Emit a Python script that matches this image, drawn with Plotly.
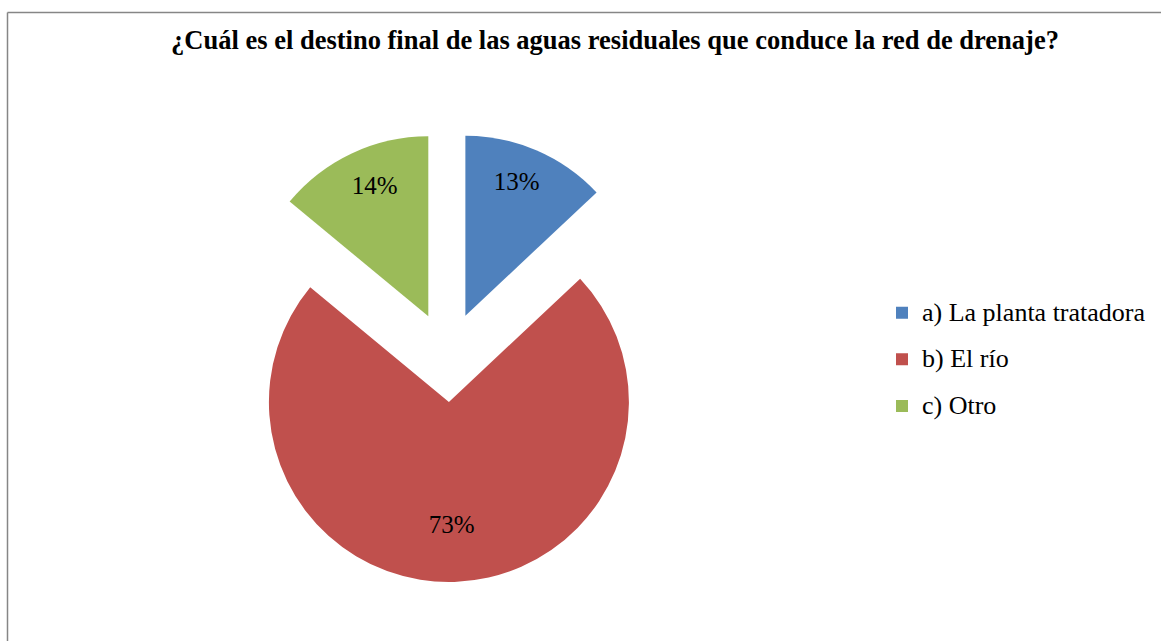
import plotly.graph_objects as go

labels = ["a) La planta tratadora", "b) El río", "c) Otro"]
values = [13, 73, 14]
colors = ["#4F81BD", "#C0504D", "#9BBB59"]
title_text = "¿Cuál es el destino final de las aguas residuales que conduce la red de drenaje?"

W, H = 1161, 641
# pie box (pixels)
cx, cy, half = 447.5, 357.0, 225.0

legend_labels = [
    '<span style="font-size:26px;baseline-shift:5px">' + l + '</span>' for l in labels
]
text_templates = ["%{percent}<br> ", " <br> <br>%{percent}", "%{percent}<br> "]

fig = go.Figure(
    go.Pie(
        labels=legend_labels,
        values=values,
        sort=False,
        direction="clockwise",
        rotation=0,
        pull=[0.25, 0.25, 0.25],
        marker=dict(colors=colors, line=dict(width=0)),
        texttemplate=text_templates,
        textposition="inside",
        insidetextorientation="horizontal",
        textfont=dict(family="Liberation Serif", size=25, color="black"),
        domain=dict(
            x=[(cx - half) / W, (cx + half) / W],
            y=[1 - (cy + half) / H, 1 - (cy - half) / H],
        ),
        hoverinfo="label+percent",
    )
)

fig.update_layout(
    width=W,
    height=H,
    margin=dict(l=0, r=0, t=0, b=0),
    paper_bgcolor="white",
    plot_bgcolor="white",
    title=dict(
        text="<b>" + title_text + "</b>",
        x=615 / W,
        xanchor="center",
        xref="container",
        y=1 - 40 / H,
        yanchor="middle",
        yref="container",
        font=dict(family="Liberation Serif", size=26.5, color="black"),
    ),
    legend=dict(
        x=(902 - 20) / W,
        xanchor="left",
        y=1 - 284.5 / H,
        yanchor="top",
        font=dict(family="Liberation Serif", size=33.5, color="black"),
        bgcolor="rgba(0,0,0,0)",
        borderwidth=0,
    ),
    uniformtext=dict(minsize=25, mode="show"),
    shapes=[
        dict(type="line", xref="paper", yref="paper",
             x0=7.5 / W, x1=1.02, y0=1 - 12.5 / H, y1=1 - 12.5 / H,
             line=dict(color="#868686", width=1.5)),
        dict(type="line", xref="paper", yref="paper",
             x0=7.5 / W, x1=7.5 / W, y0=1 - 12.5 / H, y1=-0.02,
             line=dict(color="#868686", width=1.5)),
    ],
)

fig.write_html(
    "out.html",
    config={"displayModeBar": False},
    post_script="document.body.style.margin='0';document.body.style.overflow='hidden';",
)
